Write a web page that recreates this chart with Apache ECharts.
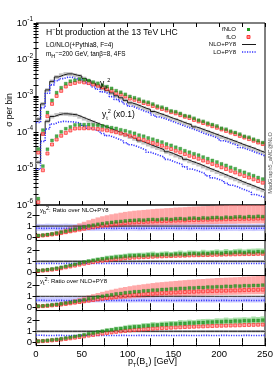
<!DOCTYPE html>
<html><head><meta charset="utf-8">
<script src="https://cdn.jsdelivr.net/npm/echarts@6/dist/echarts.min.js"></script>
<style>html,body{margin:0;padding:0;background:#fff;}#chart{width:277px;height:372px;}</style>
</head><body><div id="chart"></div>
<script>
// ---------------- data ----------------
const binEdges = [0,5,10,15,20,25,30,35,40,45,50,55,60,65,70,75,80,85,90,95,100,105,110,115,120,125,130,135,140,145,150,155,160,165,170,175,180,185,190,195,200,205,210,215,220,225,230,235,240,245,250];
const xTickLabels = ['0','50','100','150','200','250'];
const yLogTicks = [1e-6,1e-5,1e-4,1e-3,1e-2,1e-1];
const yRatioTicks = [0,1,2];

// NLO+PY8 per bin, y_b^2 and y_t^2 (x0.1)
const ybNLOPY8 = [2.3e-4,6.0e-4,1.45e-3,2.5e-3,3.3e-3,3.7e-3,4.0e-3,4.0e-3,3.7e-3,3.5e-3,
  3.0e-3,2.6e-3,2.2e-3,1.9e-3,1.6e-3,1.4e-3,1.2e-3,1.0e-3,8.8e-4,7.5e-4,
  6.4e-4,5.8e-4,5.2e-4,4.6e-4,4.2e-4,3.7e-4,3.3e-4,3.0e-4,2.7e-4,2.4e-4,
  2.2e-4,1.95e-4,1.75e-4,1.6e-4,1.4e-4,1.27e-4,1.14e-4,1.03e-4,9.2e-5,8.3e-5,
  7.4e-5,6.7e-5,6.0e-5,5.4e-5,4.8e-5,4.3e-5,3.9e-5,3.5e-5,3.1e-5,2.8e-5];
const ytNLOPY8 = [1.5e-5,9.0e-5,2.0e-4,2.7e-4,3.0e-4,3.2e-4,3.2e-4,3.1e-4,3.0e-4,2.67e-4,
  2.37e-4,2.11e-4,1.88e-4,1.67e-4,1.49e-4,1.32e-4,1.18e-4,1.05e-4,9.3e-5,8.3e-5,
  7.4e-5,6.6e-5,5.8e-5,5.2e-5,4.6e-5,4.1e-5,3.7e-5,3.3e-5,2.9e-5,2.6e-5,
  2.3e-5,2.05e-5,1.8e-5,1.6e-5,1.45e-5,1.3e-5,1.15e-5,1.02e-5,9.1e-6,8.1e-6,
  7.2e-6,6.4e-6,5.7e-6,5.1e-6,4.5e-6,4.0e-6,3.6e-6,3.2e-6,2.85e-6,2.55e-6];

// ratios over NLO+PY8
const ybRatioLOPY8 = [0.80,0.79,0.81,0.80,0.79,0.80,0.81,0.80,0.79,0.80,
  0.81,0.80,0.79,0.80,0.80,0.81,0.79,0.80,0.80,0.79,
  0.81,0.80,0.79,0.80,0.81,0.80,0.79,0.80,0.80,0.81,
  0.79,0.80,0.80,0.79,0.81,0.80,0.79,0.80,0.81,0.80,
  0.79,0.80,0.80,0.81,0.79,0.80,0.80,0.79,0.81,0.80];
const ytRatioLOPY8 = [0.64,0.62,0.61,0.62,0.63,0.62,0.61,0.62,0.62,0.63,
  0.62,0.61,0.62,0.63,0.62,0.61,0.62,0.62,0.63,0.62,
  0.61,0.62,0.63,0.62,0.61,0.62,0.62,0.63,0.62,0.61,
  0.62,0.63,0.62,0.61,0.62,0.62,0.63,0.62,0.61,0.62,
  0.63,0.62,0.61,0.62,0.62,0.63,0.62,0.61,0.62,0.63];
const ybRatiofNLO = [0.15,0.19,0.24,0.30,0.37,0.45,0.54,0.63,0.72,0.82,
  0.92,1.01,1.08,1.16,1.22,1.28,1.33,1.38,1.42,1.46,
  1.50,1.52,1.55,1.53,1.58,1.60,1.57,1.62,1.64,1.60,
  1.66,1.68,1.63,1.70,1.72,1.68,1.74,1.71,1.76,1.78,
  1.73,1.80,1.77,1.82,1.84,1.79,1.86,1.83,1.88,1.85];
const ybRatiofLO = [0.12,0.15,0.19,0.24,0.30,0.37,0.45,0.53,0.61,0.70,
  0.78,0.86,0.93,1.00,1.06,1.11,1.16,1.20,1.24,1.28,
  1.31,1.34,1.36,1.38,1.40,1.42,1.44,1.45,1.47,1.48,
  1.50,1.51,1.52,1.54,1.55,1.56,1.57,1.58,1.59,1.60,
  1.61,1.62,1.63,1.64,1.65,1.66,1.66,1.67,1.68,1.69];
const ytRatiofNLO = [0.10,0.13,0.17,0.22,0.26,0.32,0.39,0.45,0.53,0.60,
  0.68,0.77,0.84,0.93,1.00,1.08,1.13,1.21,1.25,1.32,
  1.36,1.41,1.43,1.49,1.51,1.56,1.57,1.62,1.63,1.67,
  1.68,1.72,1.72,1.76,1.76,1.80,1.80,1.84,1.84,1.87,
  1.87,1.91,1.90,1.94,1.93,1.97,1.96,1.99,1.99,2.02];
const ytRatiofLO = [0.08,0.10,0.13,0.17,0.21,0.25,0.30,0.36,0.42,0.48,
  0.54,0.61,0.67,0.73,0.79,0.85,0.90,0.95,1.00,1.04,
  1.08,1.12,1.15,1.18,1.21,1.24,1.27,1.29,1.31,1.33,
  1.35,1.37,1.39,1.41,1.42,1.44,1.45,1.47,1.48,1.50,
  1.51,1.52,1.53,1.54,1.55,1.57,1.58,1.59,1.60,1.61];

// relative uncertainty envelopes (fraction of the central value)
const nloPY8Down = [0.88,0.88,0.88,0.88,0.88,0.88,0.88,0.88,0.88,0.88,0.88,0.88,0.88,0.88,0.88,0.88,0.88,0.88,0.88,0.88,0.88,0.88,0.88,0.88,0.88,0.88,0.88,0.88,0.88,0.88,0.88,0.88,0.88,0.88,0.88,0.88,0.88,0.88,0.88,0.88,0.88,0.88,0.88,0.88,0.88,0.88,0.88,0.88,0.88,0.88];
const nloPY8Up = [1.12,1.12,1.12,1.12,1.12,1.12,1.12,1.12,1.12,1.12,1.12,1.12,1.12,1.12,1.12,1.12,1.12,1.12,1.12,1.12,1.12,1.12,1.12,1.12,1.12,1.12,1.12,1.12,1.12,1.12,1.12,1.12,1.12,1.12,1.12,1.12,1.12,1.12,1.12,1.12,1.12,1.12,1.12,1.12,1.12,1.12,1.12,1.12,1.12,1.12];
const loPY8Down = [0.70,0.70,0.70,0.70,0.70,0.70,0.70,0.70,0.70,0.70,0.70,0.70,0.70,0.70,0.70,0.70,0.70,0.70,0.70,0.70,0.70,0.70,0.70,0.70,0.70,0.70,0.70,0.70,0.70,0.70,0.70,0.70,0.70,0.70,0.70,0.70,0.70,0.70,0.70,0.70,0.70,0.70,0.70,0.70,0.70,0.70,0.70,0.70,0.70,0.70];
const loPY8Up = [1.50,1.50,1.50,1.50,1.50,1.50,1.50,1.50,1.50,1.50,1.50,1.50,1.50,1.50,1.50,1.50,1.50,1.50,1.50,1.50,1.50,1.50,1.50,1.50,1.50,1.50,1.50,1.50,1.50,1.50,1.50,1.50,1.50,1.50,1.50,1.50,1.50,1.50,1.50,1.50,1.50,1.50,1.50,1.50,1.50,1.50,1.50,1.50,1.50,1.50];
const fLODown = [0.74,0.74,0.74,0.74,0.74,0.74,0.74,0.74,0.74,0.74,0.74,0.74,0.74,0.74,0.74,0.74,0.74,0.74,0.74,0.74,0.74,0.74,0.74,0.74,0.74,0.74,0.74,0.74,0.74,0.74,0.74,0.74,0.74,0.74,0.74,0.74,0.74,0.74,0.74,0.74,0.74,0.74,0.74,0.74,0.74,0.74,0.74,0.74,0.74,0.74];
const fLOUp = [1.78,1.78,1.78,1.78,1.78,1.78,1.78,1.78,1.78,1.78,1.78,1.78,1.78,1.78,1.78,1.78,1.78,1.78,1.78,1.78,1.78,1.78,1.78,1.78,1.78,1.78,1.78,1.78,1.78,1.78,1.78,1.78,1.78,1.78,1.78,1.78,1.78,1.78,1.78,1.78,1.78,1.78,1.78,1.78,1.78,1.78,1.78,1.78,1.78,1.78];
const fNLODown = [0.85,0.84,0.86,0.85,0.83,0.85,0.86,0.84,0.85,0.83,0.86,0.85,0.84,0.85,0.86,0.83,0.85,0.84,0.86,0.85,0.83,0.85,0.86,0.84,0.85,0.83,0.86,0.85,0.84,0.85,0.86,0.83,0.85,0.84,0.86,0.85,0.83,0.85,0.86,0.84,0.85,0.83,0.86,0.85,0.84,0.85,0.86,0.83,0.85,0.84];
const fNLOUp = [1.16,1.17,1.15,1.16,1.18,1.16,1.15,1.17,1.16,1.18,1.15,1.16,1.17,1.16,1.15,1.18,1.16,1.17,1.15,1.16,1.18,1.16,1.15,1.17,1.16,1.18,1.15,1.16,1.17,1.16,1.15,1.18,1.16,1.17,1.15,1.16,1.18,1.16,1.15,1.17,1.16,1.18,1.15,1.16,1.17,1.16,1.15,1.18,1.16,1.17];

// ---------------- helpers ----------------
const FONT = 'Liberation Sans, Arial, sans-serif';
const N = ybNLOPY8.length;
const centers = binEdges.slice(0, N).map((e, i) => (e + binEdges[i + 1]) / 2);
const mul = (a, b) => a.map((v, i) => v * b[i]);
const stepData = vals => { const d = vals.map((v, i) => [binEdges[i], v]); d.push([binEdges[N], vals[N - 1]]); return d; };
const bandData = (c, dn, up) => c.map((v, i) => [binEdges[i], binEdges[i + 1], v * dn[i], v * up[i]]);
const pts = vals => vals.map((v, i) => [centers[i], v]);
const unity = ybNLOPY8.map(v => v / v);

const ybLOPY8 = mul(ybNLOPY8, ybRatioLOPY8), ytLOPY8 = mul(ytNLOPY8, ytRatioLOPY8);
const ybfNLO = mul(ybNLOPY8, ybRatiofNLO), ybfLO = mul(ybNLOPY8, ybRatiofLO);
const ytfNLO = mul(ytNLOPY8, ytRatiofNLO), ytfLO = mul(ytNLOPY8, ytRatiofLO);

function bandRender(params, api) {
  const a = api.coord([api.value(0), api.value(3)]);
  const b = api.coord([api.value(1), api.value(2)]);
  const cs = params.coordSys;
  const shape = echarts.graphic.clipRectByRect(
    {x: a[0], y: a[1], width: b[0] - a[0], height: b[1] - a[1]},
    {x: cs.x, y: cs.y, width: cs.width, height: cs.height});
  return shape && {type: 'rect', shape: shape, style: {fill: api.visual('color')}};
}

const C = {green: '#1f9a1f', red: '#ff2a2a', redFill: '#ff9090', black: '#1a1a1a', blue: '#3434ff',
  grey: '#c4c4c4', blueBand: 'rgba(120,120,255,0.38)', redBand: 'rgba(255,110,110,0.6)', greenBand: 'rgba(100,200,100,0.55)'};

// ---------------- layout ----------------
const L = 36, W = 229;
const grids = [
  {left: L, top: 23, width: W, height: 182},
  {left: L, top: 205, width: W, height: 35.5},
  {left: L, top: 240.5, width: W, height: 35},
  {left: L, top: 275.5, width: W, height: 35},
  {left: L, top: 310.5, width: W, height: 35}
].map(g => Object.assign(g, {show: true, borderColor: '#000', borderWidth: 1, backgroundColor: 'transparent'}));

const xAxes = [], yAxes = [];
grids.forEach((g, i) => {
  const last = i === grids.length - 1;
  ['bottom', 'top'].forEach(pos => xAxes.push({
    type: 'value', gridIndex: i, min: 0, max: 250, interval: 25, position: pos,
    axisLine: {show: false}, splitLine: {show: false},
    axisTick: {show: true, inside: true, length: 4, lineStyle: {color: '#000'}},
    minorTick: {show: false},
    axisLabel: {show: last && pos === 'bottom', fontFamily: FONT, fontSize: 9.5, color: '#000', margin: 4,
      formatter: v => xTickLabels.indexOf(String(v)) >= 0 ? String(v) : ''}
  }));
  ['left', 'right'].forEach(pos => {
    if (i === 0) {
      const minor = [];
      yLogTicks.slice(0, -1).forEach(d => { for (let k = 2; k <= 9; k++) minor.push(d * k); });
      yAxes.push({
        type: 'log', logBase: 10, gridIndex: 0, min: 1e-6, max: 1e-1, position: pos,
        axisLine: {show: false}, splitLine: {show: false},
        axisTick: {show: true, inside: true, length: 2.5, customValues: minor.concat(yLogTicks), lineStyle: {color: '#000'}},
        axisLabel: {show: pos === 'left', customValues: yLogTicks, margin: 3, fontFamily: FONT, color: '#000',
          formatter: v => '{b|10}{s|' + Math.round(Math.log10(v)) + '}',
          rich: {b: {fontSize: 9.5, fontFamily: FONT, color: '#000', lineHeight: 14},
                 s: {fontSize: 6.5, fontFamily: FONT, color: '#000', verticalAlign: 'top', lineHeight: 8}}}
      });
    } else {
      yAxes.push({
        type: 'value', gridIndex: i, min: -0.3, max: 2.9, position: pos,
        axisLine: {show: false}, splitLine: {show: false},
        axisTick: {show: true, inside: true, length: 3.5, customValues: yRatioTicks, lineStyle: {color: '#000'}},
        axisLabel: {show: pos === 'left', customValues: yRatioTicks, margin: 4, fontFamily: FONT, fontSize: 9.5, color: '#000'}
      });
    }
  });
});

const series = [];
const ax = i => ({xAxisIndex: 2 * i, yAxisIndex: 2 * i});
function band(i, data, color, z) {
  series.push(Object.assign({type: 'custom', renderItem: bandRender, data: data, itemStyle: {color: color},
    encode: {x: [0, 1], y: [2, 3]}, silent: true, z: z || 1}, ax(i)));
}
function step(i, vals, color, dotted, z) {
  series.push(Object.assign({type: 'line', step: 'end', data: stepData(vals), symbol: 'none', silent: true, z: z || 3,
    lineStyle: dotted ? {color: color, width: 1.6, type: [1.2, 1.3]} : {color: color, width: 1}}, ax(i)));
}
function markers(i, vals, kind) {
  series.push(Object.assign({type: 'scatter', data: pts(vals), symbol: 'rect', symbolSize: 3, silent: true, z: kind === 'g' ? 6 : 5,
    itemStyle: kind === 'g' ? {color: C.green, borderColor: '#0f6f0f', borderWidth: 0.3}
                            : {color: C.redFill, borderColor: C.red, borderWidth: 0.9}}, ax(i)));
}

// main panel
band(0, bandData(ybNLOPY8, nloPY8Down, nloPY8Up), C.grey);
band(0, bandData(ytNLOPY8, nloPY8Down, nloPY8Up), C.grey);
step(0, ybNLOPY8, C.black, false); step(0, ytNLOPY8, C.black, false);
step(0, ybLOPY8, C.blue, true); step(0, ytLOPY8, C.blue, true);
markers(0, ybfLO, 'r'); markers(0, ytfLO, 'r');
markers(0, ybfNLO, 'g'); markers(0, ytfNLO, 'g');

// ratio panels
[[1, 'yb', 'LO'], [2, 'yb', 'NLO'], [3, 'yt', 'LO'], [4, 'yt', 'NLO']].forEach(([i, c, which]) => {
  const rNLO = c === 'yb' ? ybRatiofNLO : ytRatiofNLO;
  const rLO = c === 'yb' ? ybRatiofLO : ytRatiofLO;
  const rPY = c === 'yb' ? ybRatioLOPY8 : ytRatioLOPY8;
  if (which === 'LO') {
    band(i, bandData(rPY, loPY8Down, loPY8Up), C.blueBand, 1);
    band(i, bandData(rLO, fLODown, fLOUp), C.redBand, 2);
  } else {
    band(i, bandData(unity, nloPY8Down, nloPY8Up), C.grey, 1);
    band(i, bandData(rNLO, fNLODown, fNLOUp), C.greenBand, 2);
  }
  step(i, unity, C.black, false);
  step(i, rPY, C.blue, true);
  markers(i, rLO, 'r');
  markers(i, rNLO, 'g');
});

// ---------------- texts ----------------
const sup = {fontSize: 5.5, fontFamily: FONT, color: '#000', verticalAlign: 'top', lineHeight: 6};
const sub = {fontSize: 5.5, fontFamily: FONT, color: '#000', verticalAlign: 'bottom', lineHeight: 6};
function txt(x, y, text, size, opts) {
  return Object.assign({type: 'text', x: x, y: y, z: 50, silent: true,
    style: {text: text, fontFamily: FONT, fontSize: size, fill: '#000', textAlign: 'left', textVerticalAlign: 'middle',
      rich: {n: {fontSize: size, fontFamily: FONT, color: '#000', lineHeight: size + 4}, sup: sup, sub: sub}}}, opts || {});
}
function rtxt(x, y, text) {
  return {type: 'text', x: x, y: y, z: 50, silent: true,
    style: {text: text, fontFamily: FONT, fontSize: 6, fill: '#000', textAlign: 'right', textVerticalAlign: 'middle'}};
}
const graphic = [
  txt(46, 33, '{n|H}{sup|−}{n|bt production at the 13 TeV LHC}', 8.6),
  txt(46, 45.5, '{n|LO/NLO(+Pythia8, F=4)}', 6.4),
  txt(46, 54.5, '{n|m}{sub|H}{sup|−}{n|=200 GeV, tanβ=8, 4FS}', 6.4),
  txt(100, 84, '{n|y}{sub|b}{sup|2}', 8.5),
  txt(102, 115, '{n|y}{sub|t}{sup|2}{n| (x0.1)}', 8.5),
  rtxt(236, 29.5, 'fNLO'), rtxt(236, 37, 'fLO'), rtxt(236, 44.5, 'NLO+PY8'), rtxt(236, 52, 'LO+PY8'),
  {type: 'rect', z: 50, shape: {x: 247, y: 28, width: 3, height: 3}, style: {fill: C.green}},
  {type: 'rect', z: 50, shape: {x: 247, y: 35.5, width: 3, height: 3}, style: {fill: C.redFill, stroke: C.red, lineWidth: 0.9}},
  {type: 'line', z: 50, shape: {x1: 242, y1: 44.5, x2: 256, y2: 44.5}, style: {stroke: C.black, lineWidth: 1}},
  {type: 'line', z: 50, shape: {x1: 242, y1: 52, x2: 256, y2: 52}, style: {stroke: C.blue, lineWidth: 1.6, lineDash: [1.2, 1.3]}},
  txt(40, 210.5, '{n|y}{sub|b}{sup|2}{n|: Ratio over NLO+PY8}', 6),
  txt(40, 281, '{n|y}{sub|t}{sup|2}{n|: Ratio over NLO+PY8}', 6),
  {type: 'text', z: 50, x: 10, y: 110, rotation: Math.PI / 2, silent: true,
    style: {text: 'σ per bin', fontFamily: FONT, fontSize: 8.5, fill: '#000', textAlign: 'center', textVerticalAlign: 'middle'}},
  {type: 'text', z: 50, x: 270.5, y: 163, rotation: Math.PI / 2, silent: true,
    style: {text: 'MadGraph5_aMC@NLO', fontFamily: FONT, fontSize: 5.6, fill: '#555', textAlign: 'center', textVerticalAlign: 'middle'}},
  txt(128, 362, '{n|p}{sub|T}{n|(B}{sub|1}{n|) [GeV]}', 9)
];

const chart = echarts.init(document.getElementById('chart'), null, {renderer: 'canvas'});
chart.setOption({animation: false, backgroundColor: '#fff', grid: grids, xAxis: xAxes, yAxis: yAxes, series: series, graphic: graphic});
</script></body></html>
